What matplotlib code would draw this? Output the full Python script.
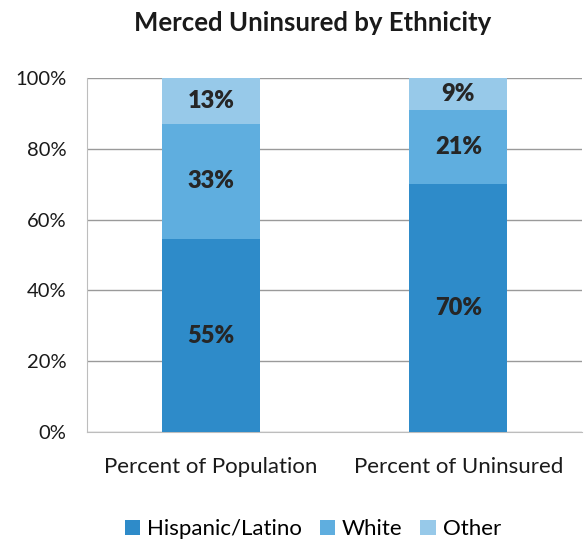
import numpy as np
import matplotlib
matplotlib.use("Agg")
import matplotlib.pyplot as plt

categories = ["Percent of Population", "Percent of Uninsured"]
series = ["Hispanic/Latino", "White", "Other"]
hispanic = [55, 70]
white = [33, 21]
other = [13, 9]
colors = ["#2E8BC9", "#5FAEDF", "#97C9E9"]

plt.rcParams['font.family'] = ['Lato', 'DejaVu Sans']

data = np.array([hispanic, white, other], dtype=float)
totals = data.sum(axis=0)
shares = data / totals * 100

fig = plt.figure(figsize=(5.88, 5.42), dpi=100)
ax = fig.add_axes([0.148, 0.203, 0.842, 0.653])

x = np.arange(len(categories))
bottom = np.zeros(len(categories))
for i, name in enumerate(series):
    ax.bar(x, shares[i], 0.395, bottom=bottom, color=colors[i], label=name, zorder=3)
    for j in range(len(categories)):
        ax.text(x[j], bottom[j] + shares[i][j] / 2, f"{int(data[i][j])}%",
                ha="center", va="center", fontsize=17, fontweight="heavy",
                color="#262626", zorder=4)
    bottom += shares[i]

ax.set_xlim(-0.5, 1.5)
ax.set_ylim(0, 100)
ax.set_yticks(range(0, 101, 20))
ax.set_yticklabels([f"{v}%" for v in range(0, 101, 20)], fontsize=14.5)
ax.set_xticks(x)
ax.set_xticklabels(categories, fontsize=16)
ax.tick_params(length=0, colors="#1a1a1a")
ax.tick_params(axis="y", pad=15)
ax.tick_params(axis="x", pad=18)
ax.grid(axis="y", color="#9a9a9a", linewidth=1, zorder=0)
for s in ["top", "right"]:
    ax.spines[s].set_visible(False)
ax.spines["left"].set_color("#bdbdbd")
ax.spines["bottom"].set_color("#bdbdbd")

fig.suptitle("Merced Uninsured by Ethnicity", x=0.532, y=0.98, fontsize=18.5,
             fontweight="bold", color="#1a1a1a")
fig.legend(loc="lower center", bbox_to_anchor=(0.532, -0.032), ncol=3, frameon=False,
           fontsize=16, handlelength=0.7, handleheight=0.7, handletextpad=0.3,
           columnspacing=0.8)

fig.savefig("out.png", dpi=100)
